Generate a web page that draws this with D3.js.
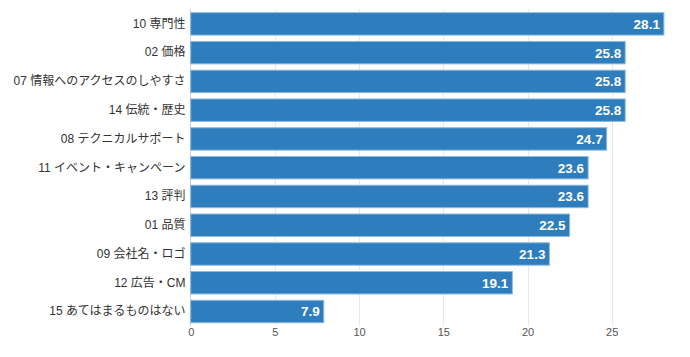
<!DOCTYPE html>
<html><head><meta charset="utf-8">
<script src="https://cdn.jsdelivr.net/npm/d3@7"></script>
<style>body{margin:0;background:#fff}svg{display:block}</style>
</head><body>
<svg id="c" width="690" height="357"></svg>
<script>
const categories = ["10 専門性","02 価格","07 情報へのアクセスのしやすさ","14 伝統・歴史","08 テクニカルサポート","11 イベント・キャンペーン","13 評判","01 品質","09 会社名・ロゴ","12 広告・CM","15 あてはまるものはない"];
const values = [28.1,25.8,25.8,25.8,24.7,23.6,23.6,22.5,21.3,19.1,7.9];
const tickValues = [0,5,10,15,20,25];

const svg = d3.select("#c");
const x = d3.scaleLinear().domain([0,25]).range([190.7,611.7]);
const y = d3.scaleBand().domain(categories).range([9.5,325.9]).paddingInner(0.22).paddingOuter(0.11);
const gridTop = 9.5, gridBottom = 325.5;

// grid
svg.append("g").selectAll("line").data(tickValues.filter(d=>d>0)).join("line")
  .attr("x1",d=>Math.round(x(d))+0.5).attr("x2",d=>Math.round(x(d))+0.5)
  .attr("y1",gridTop).attr("y2",gridBottom)
  .attr("stroke","#e8e8e8").attr("stroke-width",1);
svg.append("line").attr("x1",190.5).attr("x2",190.5).attr("y1",gridTop).attr("y2",gridBottom)
  .attr("stroke","#cfcfcf").attr("stroke-width",1);

// x axis labels
const xa = d3.axisBottom(x).tickValues(tickValues).tickSize(0).tickPadding(0);
const gx = svg.append("g").attr("transform",`translate(0,${gridBottom+3})`).call(xa);
gx.select(".domain").remove();
gx.selectAll("text").attr("fill","#555").attr("font-size","11px")
  .attr("font-family","'Liberation Sans', Arial, sans-serif").attr("dy","0.71em");

// y axis labels
const ya = d3.axisLeft(y).tickSize(0).tickPadding(5);
const gy = svg.append("g").attr("transform","translate(190.5,0)").call(ya);
gy.select(".domain").remove();
gy.selectAll("text").attr("fill","#333").attr("font-size","12px")
  .attr("font-family","'Liberation Sans', 'Noto Sans CJK JP', sans-serif");

// bars
const data = categories.map((c,i)=>({c,v:values[i]}));
svg.append("g").selectAll("rect").data(data).join("rect")
  .attr("x",x(0)).attr("y",d=>y(d.c))
  .attr("width",d=>x(d.v)-x(0)).attr("height",y.bandwidth())
  .attr("fill","#2e7dbc").attr("stroke","#8cb9e0").attr("stroke-width",1);

// value labels
svg.append("g").selectAll("text").data(data).join("text")
  .attr("x",d=>x(d.v)-4).attr("y",d=>y(d.c)+y.bandwidth()/2)
  .attr("dy","0.36em").attr("text-anchor","end")
  .attr("fill","#fff").attr("font-weight","bold").attr("font-size","13.5px")
  .attr("font-family","'Liberation Sans', Arial, sans-serif")
  .text(d=>d.v.toFixed(1));
</script>
</body></html>
